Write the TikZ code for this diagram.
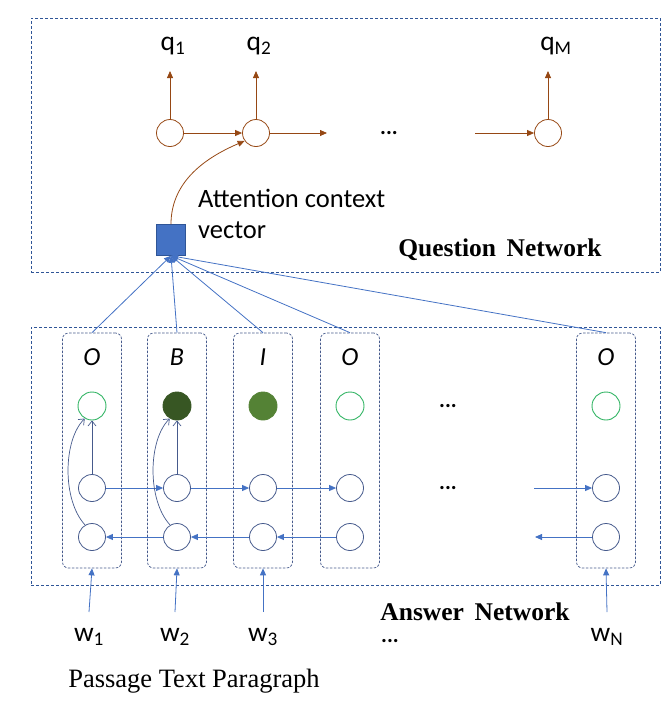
\documentclass[tikz,border=0pt]{standalone}
\usepackage{fontspec}
\setmainfont{Liberation Serif}
\newfontfamily\calfont{Carlito}
\usetikzlibrary{arrows.meta}
\definecolor{brn}{RGB}{150,72,20}
\definecolor{blu}{RGB}{68,114,196}
\definecolor{slate}{RGB}{70,90,140}
\definecolor{frame}{RGB}{47,85,151}
\definecolor{grn}{RGB}{50,180,100}
\definecolor{dgrn}{RGB}{55,86,35}
\definecolor{mgrn}{RGB}{84,130,53}
\begin{document}
\begin{tikzpicture}[x=1pt,y=-1pt,
  frm/.style={draw=frame,dash pattern=on 3pt off 2pt,line width=0.8pt,minimum width=629pt,inner sep=0pt},
  colbox/.style={draw=slate,dash pattern=on 2.5pt off 1.5pt,line width=0.7pt,rounded corners=6pt,minimum width=59pt,minimum height=235pt,inner sep=0pt},
  qc/.style={circle,draw=brn,line width=0.8pt,minimum size=27pt,inner sep=0pt},
  ac/.style={circle,draw=slate,line width=0.8pt,minimum size=27pt,inner sep=0pt},
  gc/.style={circle,draw=grn,line width=0.9pt,minimum size=28pt,inner sep=0pt},
  barr/.style={draw=blu,line width=0.8pt,-{Triangle[length=7pt,width=6pt]}},
  brarr/.style={draw=brn,line width=0.8pt,-{Triangle[length=7pt,width=6pt]}},
  garr/.style={draw=slate,line width=0.7pt,-{Straight Barb[length=5pt,width=8pt]}},
  lbl/.style={font=\calfont\fontsize{26.5}{29}\selectfont,inner sep=0pt},
  wlbl/.style={font=\calfont\fontsize{27.5}{29}\selectfont,inner sep=0pt},
  tag/.style={font=\calfont\itshape\fontsize{26}{28}\selectfont,inner sep=0pt},
  dots/.style={font=\calfont\bfseries\fontsize{22}{24}\selectfont,inner sep=0pt},
  ttl/.style={font=\bfseries\fontsize{25.5}{28}\selectfont,inner sep=0pt}
]
\useasboundingbox (0,0) rectangle (671,702);
% frames
\node[frm,minimum height=254pt] (qbox) at (345.5,145) {};
\node[frm,minimum height=258pt] (abox) at (345.5,456) {};
% question network
\node[qc] (q1) at (170,133) {};
\node[qc] (q2) at (256,133) {};
\node[qc] (qM) at (548,133) {};
\node[wlbl] (lq1) at (173,46) {q\textsubscript{1}};
\node[wlbl] (lq2) at (259,46) {q\textsubscript{2}};
\node[wlbl] (lqM) at (556,46) {q\textsubscript{M}};
\coordinate (t1) at (170,71);
\coordinate (t2) at (256,71);
\coordinate (tM) at (548,71);
\draw[brarr] (q1.north) -- (t1);
\draw[brarr] (q2.north) -- (t2);
\draw[brarr] (qM.north) -- (tM);
\coordinate (h2) at (327,133);
\coordinate (hM) at (475,133);
\draw[brarr] (q1.east) -- (q2.west);
\draw[brarr] (q2.east) -- (h2);
\draw[brarr] (hM) -- (qM.west);
\node[dots] (qd) at (389,133) {...};
\node[draw=frame,fill=blu,line width=0.5pt,minimum width=29pt,minimum height=31pt,inner sep=0pt] (sq) at (171,240) {};
\draw[brarr] (sq.north) .. controls (171,185) and (200,160) .. (q2.215);
\node[lbl,anchor=west] (att1) at (198,198) {Attention context};
\node[lbl,anchor=west] (att2) at (198,230) {vector};
\node[ttl] (qn) at (500,250) {Question\, Network};
% answer network columns
\foreach \i/\x/\t in {1/92/O,2/177/B,3/263/I,4/350/O,5/606/O}{
  \node[colbox] (col\i) at (\x,450.5) {};
  \node[tag] (tag\i) at (\x,357) {\t};
  \node[ac] (r\i) at (\x,488) {};
  \node[ac] (s\i) at (\x,537) {};
}
\node[gc] (g1) at (92,406) {};
\node[gc,draw=dgrn,fill=dgrn] (g2) at (177,406) {};
\node[gc,draw=mgrn,fill=mgrn] (g3) at (263,406) {};
\node[gc] (g4) at (350,406) {};
\node[gc] (g5) at (606,406) {};
\node[dots] (gd) at (448,406) {...};
\node[dots] (rd) at (448,488) {...};
% inner arrows
\draw[barr] (r1.east) -- (r2.west);
\draw[barr] (r2.east) -- (r3.west);
\draw[barr] (r3.east) -- (r4.west);
\coordinate (ri) at (534,488);
\draw[barr] (ri) -- (r5.west);
\draw[barr] (s2.west) -- (s1.east);
\draw[barr] (s3.west) -- (s2.east);
\draw[barr] (s4.west) -- (s3.east);
\coordinate (so) at (535,537);
\draw[barr] (s5.west) -- (so);
\draw[garr] (r1.north) -- (g1.south);
\draw[garr] (r2.north) -- (g2.south);
\draw[garr] (s1.120) .. controls (62,500) and (63,440) .. (g1.240);
\draw[garr] (s2.120) .. controls (147,500) and (148,440) .. (g2.240);
% attention lines
\foreach \i in {1,...,5}{
  \draw[barr] (col\i.north) -- (sq.south);
}
% inputs
\foreach \i/\x/\s in {1/89/1,2/175/2,3/263/3,5/607/N}{
  \node[wlbl] (w\i) at (\x,637) {w\textsubscript{\s}};
  \coordinate (wa\i) at (\x,612);
  \draw[barr] (wa\i) -- (col\i.south);
}
\node[ttl] (an) at (475,612) {Answer\, Network};
\node[dots] (wd) at (390,641) {...};
\node[inner sep=0pt,font=\fontsize{26.5}{29}\selectfont] (ptp) at (194,681) {Passage Text Paragraph};
\end{tikzpicture}
\end{document}
